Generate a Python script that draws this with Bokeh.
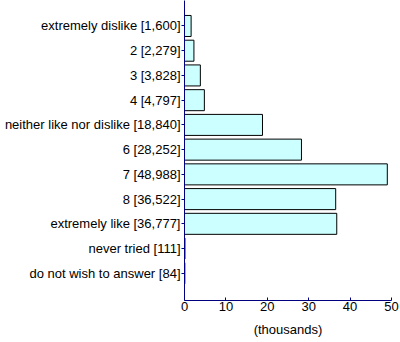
from bokeh.plotting import figure
from bokeh.models import Range1d, FixedTicker, ColumnDataSource
from bokeh.embed import file_html
from bokeh.resources import INLINE

categories = ["extremely dislike [1,600]", "2 [2,279]", "3 [3,828]", "4 [4,797]",
              "neither like nor dislike [18,840]", "6 [28,252]", "7 [48,988]",
              "8 [36,522]", "extremely like [36,777]", "never tried [111]",
              "do not wish to answer [84]"]
counts = [1600, 2279, 3828, 4797, 18840, 28252, 48988, 36522, 36777, 111, 84]
x_ticks = [0, 10, 20, 30, 40, 50]

idx = list(range(len(categories)))
src = ColumnDataSource(dict(y=idx, right=[c / 1000 for c in counts]))

p = figure(width=400, height=342, output_backend="svg", toolbar_location=None,
           x_range=Range1d(0, 50), y_range=Range1d(11.1, -1.03),
           min_border_left=184, min_border_right=9, min_border_top=0, min_border_bottom=42)
p.outline_line_color = None
p.background_fill_color = "white"
p.border_fill_color = "white"
p.xgrid.visible = False
p.ygrid.visible = False

p.hbar(y="y", left=0, right="right", height=0.85, source=src,
       fill_color="#CCFFFF", line_color="black", line_width=1)

navy = "#000080"
font = "Liberation Sans"
fs = "13px"

p.yaxis.ticker = FixedTicker(ticks=idx)
p.yaxis.major_label_overrides = {i: c for i, c in zip(idx, categories)}
p.yaxis.axis_line_color = navy
p.yaxis.major_tick_line_color = navy
p.yaxis.major_tick_out = 3
p.yaxis.major_tick_in = 0
p.yaxis.minor_tick_line_color = None
p.yaxis.major_label_standoff = 1
p.yaxis.major_label_text_font = font
p.yaxis.major_label_text_font_size = fs
p.yaxis.major_label_text_color = "black"

p.xaxis.ticker = FixedTicker(ticks=x_ticks)
p.xaxis.axis_line_color = navy
p.xaxis.major_tick_line_color = navy
p.xaxis.major_tick_out = 0
p.xaxis.major_tick_in = 3
p.xaxis.minor_tick_line_color = None
p.xaxis.major_label_standoff = 1
p.xaxis.major_label_text_font = font
p.xaxis.major_label_text_font_size = fs
p.xaxis.major_label_text_color = "black"
p.xaxis.axis_label = "(thousands)"
p.xaxis.axis_label_text_font = font
p.xaxis.axis_label_text_font_size = fs
p.xaxis.axis_label_text_font_style = "normal"
p.xaxis.axis_label_text_color = "black"
p.xaxis.axis_label_standoff = 8

open("out.html", "w").write(file_html(p, INLINE))
